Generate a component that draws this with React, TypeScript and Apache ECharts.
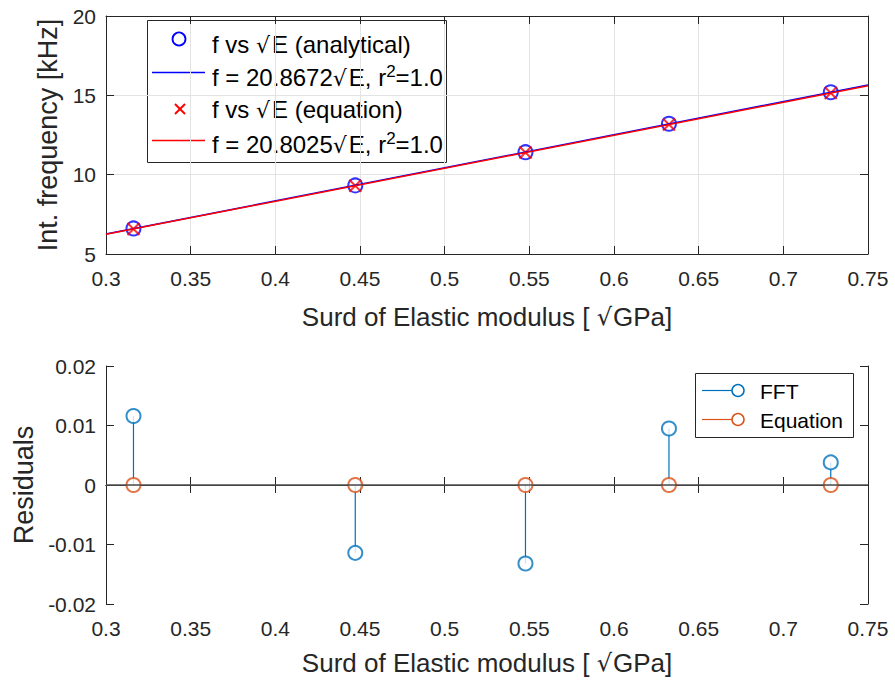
import { useEffect, useRef } from "react";
import * as echarts from "echarts";

// Square root of elastic modulus [sqrt(GPa)]
const SQRT_E = [0.31623, 0.44721, 0.54772, 0.63246, 0.72801];
// Intrinsic frequency [kHz]
const F_ANALYTICAL = [6.61, 9.321, 11.416, 13.207, 15.195];
const F_EQUATION = [6.578, 9.303, 11.394, 13.157, 15.144];
// Fitted lines, end points across the axis range
const FIT_X = [0.3, 0.75];
const FIT_ANALYTICAL = [6.26, 15.65];
const FIT_EQUATION = [6.241, 15.602];
// Residuals of the fits
const RES_FFT = [0.0116, -0.0114, -0.0132, 0.0095, 0.0038];
const RES_EQUATION = [0, 0, 0, 0, 0];

const X_NAME = ["Surd of Elastic modulus [ ", "GPa]"];
const Y_NAME_TOP = "Int. frequency [kHz]";
const Y_NAME_BOTTOM = "Residuals";
const LEGEND_TOP = [
  ["f vs ", "E (analytical)"],
  ["f = 20.8672", "E, r", "=1.0"],
  ["f vs ", "E (equation)"],
  ["f = 20.8025", "E, r", "=1.0"],
];
const LEGEND_BOTTOM = ["FFT", "Equation"];

const FONT = "'Liberation Sans', Arial, Helvetica, sans-serif";
const SYM_FONT = "'DejaVu Sans', 'Liberation Sans', sans-serif";
const AX = "#262626";
const BLUE = "#0000FF";
const RED = "#FF0000";
const C1 = "#0072BD";
const C2 = "#D95319";

const fmt = (v: number) => String(+v.toFixed(3));

function App() {
  const ref = useRef<HTMLDivElement>(null);
  useEffect(() => {
    const chart = echarts.init(ref.current!, undefined, { renderer: "svg" });

    const xBase = (gridIndex: number) => ({
      type: "value" as const,
      gridIndex,
      min: 0.3,
      max: 0.75,
      interval: 0.05,
    });
    const tickLabel = {
      color: AX,
      fontSize: 21,
      fontFamily: FONT,
      formatter: fmt,
    };
    const axisLine = { show: true, lineStyle: { color: AX, width: 1 } };
    const axisTick = { show: true, inside: true, length: 8, lineStyle: { color: AX, width: 1 } };
    const nameStyle = { color: AX, fontSize: 27, fontFamily: FONT };
    const xNameStyle = {
      ...nameStyle,
      rich: {
        t: { color: AX, fontSize: 26, fontFamily: FONT },
        r: { color: AX, fontSize: 24, fontFamily: SYM_FONT, padding: [0, 1, 0, 0] },
      },
    };
    const xNameText = `{t|${X_NAME[0]}}{r|√}{t|${X_NAME[1]}}`;
    const grid = { lineStyle: { color: "#e3e3e3", width: 1 } };

    const pairs = (xs: number[], ys: number[]) => xs.map((x, i) => [x, ys[i]]);

    const LSIZE = 24;
    const richTop = {
      a: { fontSize: LSIZE, fontFamily: FONT, fill: "#000", color: "#000", lineHeight: 28, verticalAlign: "bottom" },
      r: { fontSize: 22, fontFamily: SYM_FONT, fill: "#000", color: "#000", lineHeight: 28, padding: [0, 2, 0, 0], verticalAlign: "bottom" },
      s: { fontSize: 17, fontFamily: FONT, fill: "#000", color: "#000", lineHeight: 28, padding: [0, 0, 9, 0], verticalAlign: "bottom" },
    };
    const plain = (p: string[]) => `{a|${p[0]}}{r|√}{a|${p[1]}}`;
    const withSup = (p: string[]) => `{a|${p[0]}}{r|√}{a|${p[1]}}{s|2}{a|${p[2]}}`;

    const option: any = {
      animation: false,
      backgroundColor: "#fff",
      textStyle: { fontFamily: FONT },
      grid: [
        { left: 106, top: 16, width: 762, height: 238 },
        { left: 106, top: 366, width: 762, height: 238 },
      ],
      xAxis: [
        {
          ...xBase(0),
          position: "bottom",
          axisLine,
          axisTick,
          axisLabel: { ...tickLabel, margin: 14 },
          splitLine: { show: true, ...grid },
          name: xNameText,
          nameLocation: "middle",
          nameGap: 50,
          nameTextStyle: xNameStyle,
        },
        {
          ...xBase(0),
          position: "top",
          axisLine,
          axisTick,
          axisLabel: { show: false },
          splitLine: { show: false },
        },
        {
          ...xBase(1),
          position: "bottom",
          axisLine,
          axisTick,
          axisLabel: { ...tickLabel, margin: 14 },
          splitLine: { show: false },
          name: xNameText,
          nameLocation: "middle",
          nameGap: 46,
          nameTextStyle: xNameStyle,
        },
        {
          ...xBase(1),
          position: "top",
          axisLine,
          axisTick,
          axisLabel: { show: false },
          splitLine: { show: false },
        },
      ],
      yAxis: [
        {
          type: "value",
          gridIndex: 0,
          min: 5,
          max: 20,
          interval: 5,
          position: "left",
          axisLine,
          axisTick,
          axisLabel: { ...tickLabel, margin: 10 },
          splitLine: { show: true, ...grid },
          name: Y_NAME_TOP,
          nameLocation: "middle",
          nameGap: 45,
          nameTextStyle: nameStyle,
        },
        {
          type: "value",
          gridIndex: 0,
          min: 5,
          max: 20,
          interval: 5,
          position: "right",
          axisLine,
          axisTick,
          axisLabel: { show: false },
          splitLine: { show: false },
        },
        {
          type: "value",
          gridIndex: 1,
          min: -0.02,
          max: 0.02,
          interval: 0.01,
          position: "left",
          axisLine,
          axisTick,
          axisLabel: { ...tickLabel, margin: 10 },
          splitLine: { show: false },
          name: Y_NAME_BOTTOM,
          nameLocation: "middle",
          nameGap: 68,
          nameTextStyle: nameStyle,
        },
        {
          type: "value",
          gridIndex: 1,
          min: -0.02,
          max: 0.02,
          interval: 0.01,
          position: "right",
          axisLine,
          axisTick,
          axisLabel: { show: false },
          splitLine: { show: false },
        },
      ],
      series: [
        {
          name: "analytical",
          type: "scatter",
          xAxisIndex: 0,
          yAxisIndex: 0,
          symbol: "emptyCircle",
          symbolSize: 14,
          itemStyle: { color: BLUE, borderColor: BLUE, borderWidth: 1.8 },
          data: pairs(SQRT_E, F_ANALYTICAL),
        },
        {
          name: "fit analytical",
          type: "line",
          xAxisIndex: 0,
          yAxisIndex: 0,
          showSymbol: false,
          symbol: "none",
          lineStyle: { color: BLUE, width: 1.5 },
          data: pairs(FIT_X, FIT_ANALYTICAL),
        },
        {
          name: "equation",
          type: "scatter",
          xAxisIndex: 0,
          yAxisIndex: 0,
          symbol: "path://M0,0L10,10M10,0L0,10",
          symbolSize: 12,
          itemStyle: { color: "none", borderColor: RED, borderWidth: 2 },
          data: pairs(SQRT_E, F_EQUATION),
        },
        {
          name: "fit equation",
          type: "line",
          xAxisIndex: 0,
          yAxisIndex: 0,
          showSymbol: false,
          symbol: "none",
          lineStyle: { color: RED, width: 1.5 },
          data: pairs(FIT_X, FIT_EQUATION),
        },
        {
          name: "FFT stems",
          type: "custom",
          xAxisIndex: 2,
          yAxisIndex: 2,
          renderItem: (_p: any, api: any) => {
            const x = api.value(0);
            const y = api.value(1);
            const a = api.coord([x, 0]);
            const b = api.coord([x, y]);
            return {
              type: "line",
              shape: { x1: a[0], y1: a[1], x2: b[0], y2: b[1] },
              style: { stroke: C1, lineWidth: 1.2 },
            };
          },
          data: pairs(SQRT_E, RES_FFT),
          markLine: {
            silent: true,
            symbol: "none",
            label: { show: false },
            lineStyle: { color: "#4d4d4d", width: 1.5, type: "solid" },
            data: [{ yAxis: 0 }],
          },
        },
        {
          name: "FFT",
          type: "scatter",
          xAxisIndex: 2,
          yAxisIndex: 2,
          symbol: "emptyCircle",
          symbolSize: 14,
          itemStyle: { color: C1, borderColor: C1, borderWidth: 1.5 },
          data: pairs(SQRT_E, RES_FFT),
        },
        {
          name: "Equation",
          type: "scatter",
          xAxisIndex: 2,
          yAxisIndex: 2,
          symbol: "emptyCircle",
          symbolSize: 14,
          itemStyle: { color: C2, borderColor: C2, borderWidth: 1.5 },
          data: pairs(SQRT_E, RES_EQUATION),
        },
      ],
      graphic: [
        // legend of the upper axes
        {
          type: "group",
          z: 100,
          children: [
            {
              type: "rect",
              shape: { x: 147.5, y: 20.5, width: 299, height: 142 },
              style: { fill: "#fff", stroke: AX, lineWidth: 1 },
            },
            {
              type: "circle",
              shape: { cx: 179, cy: 39, r: 6.5 },
              style: { fill: "none", stroke: BLUE, lineWidth: 1.8 },
            },
            {
              type: "text",
              x: 212,
              y: 42,
              style: { text: plain(LEGEND_TOP[0]), rich: richTop, verticalAlign: "middle" },
            },
            {
              type: "line",
              shape: { x1: 152, y1: 72.5, x2: 205, y2: 72.5 },
              style: { stroke: BLUE, lineWidth: 1.5 },
            },
            {
              type: "text",
              x: 212,
              y: 75,
              style: { text: withSup(LEGEND_TOP[1]), rich: richTop, verticalAlign: "middle" },
            },
            {
              type: "polyline",
              shape: { points: [[175, 104], [185, 114]] },
              style: { stroke: RED, lineWidth: 2 },
            },
            {
              type: "polyline",
              shape: { points: [[185, 104], [175, 114]] },
              style: { stroke: RED, lineWidth: 2 },
            },
            {
              type: "text",
              x: 212,
              y: 107,
              style: { text: plain(LEGEND_TOP[2]), rich: richTop, verticalAlign: "middle" },
            },
            {
              type: "line",
              shape: { x1: 152, y1: 140.5, x2: 205, y2: 140.5 },
              style: { stroke: RED, lineWidth: 1.5 },
            },
            {
              type: "text",
              x: 212,
              y: 142,
              style: { text: withSup(LEGEND_TOP[3]), rich: richTop, verticalAlign: "middle" },
            },
          ],
        },
        // legend of the residual axes
        {
          type: "group",
          z: 100,
          children: [
            {
              type: "rect",
              shape: { x: 695.5, y: 373.5, width: 158, height: 64 },
              style: { fill: "#fff", stroke: AX, lineWidth: 1 },
            },
            {
              type: "line",
              shape: { x1: 702, y1: 390.5, x2: 732, y2: 390.5 },
              style: { stroke: C1, lineWidth: 1.2 },
            },
            {
              type: "circle",
              shape: { cx: 738, cy: 390.5, r: 6 },
              style: { fill: "none", stroke: C1, lineWidth: 1.5 },
            },
            {
              type: "text",
              x: 760,
              y: 391,
              style: { text: LEGEND_BOTTOM[0], font: `21px ${FONT}`, fill: "#000", verticalAlign: "middle" },
            },
            {
              type: "line",
              shape: { x1: 702, y1: 419.5, x2: 732, y2: 419.5 },
              style: { stroke: C2, lineWidth: 1.2 },
            },
            {
              type: "circle",
              shape: { cx: 738, cy: 419.5, r: 6 },
              style: { fill: "none", stroke: C2, lineWidth: 1.5 },
            },
            {
              type: "text",
              x: 760,
              y: 420,
              style: { text: LEGEND_BOTTOM[1], font: `21px ${FONT}`, fill: "#000", verticalAlign: "middle" },
            },
          ],
        },
      ],
    };

    chart.setOption(option);
    return () => chart.dispose();
  }, []);

  return (
    <div
      ref={ref}
      style={{ position: "fixed", left: 0, top: 0, width: 895, height: 682, background: "#fff" }}
    />
  );
}

export default App;
